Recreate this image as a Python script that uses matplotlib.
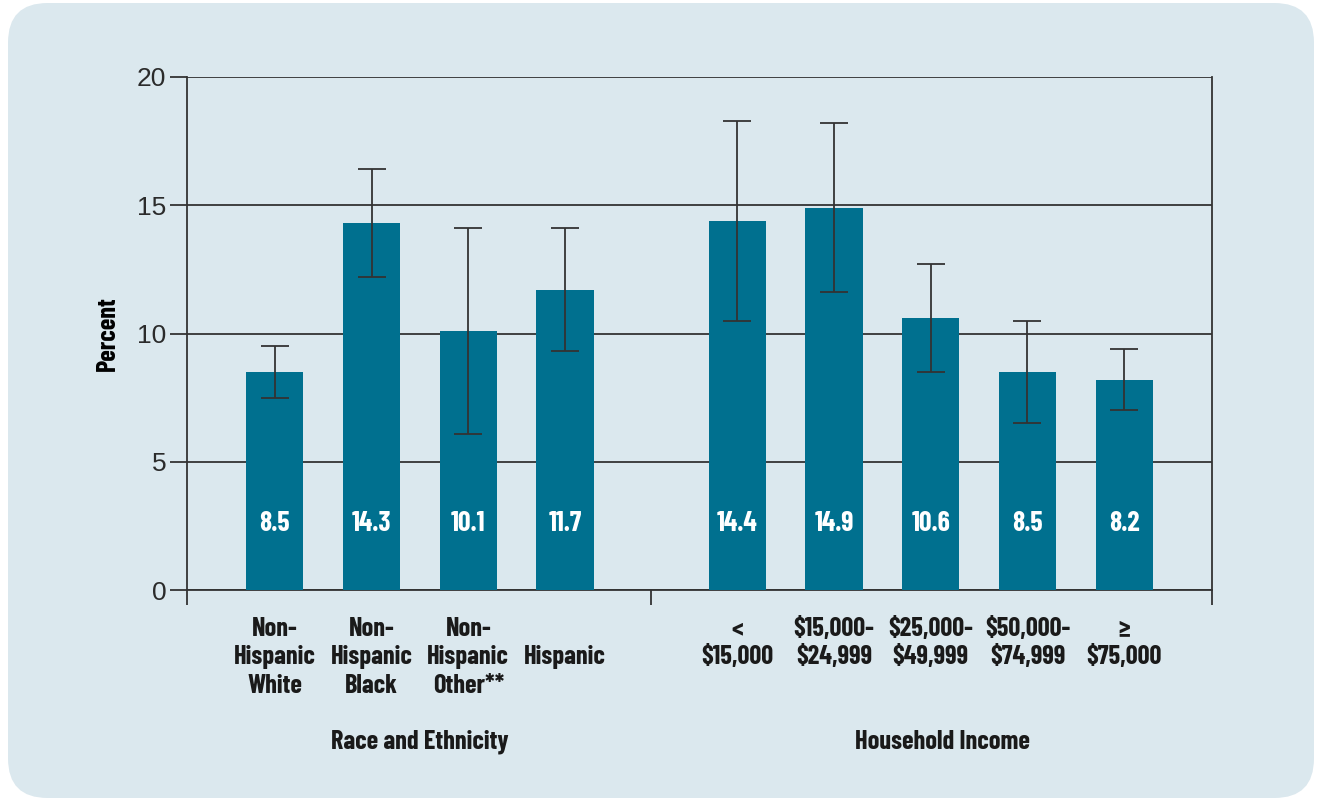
import matplotlib.pyplot as plt
from matplotlib import font_manager
from matplotlib.patches import FancyBboxPatch
from matplotlib.transforms import blended_transform_factory

# Data
race_labels = ["Non-\nHispanic\nWhite", "Non-\nHispanic\nBlack", "Non-\nHispanic\nOther**", "\nHispanic"]
race_values = [8.5, 14.3, 10.1, 11.7]
race_low = [7.5, 12.2, 6.1, 9.3]
race_high = [9.5, 16.4, 14.1, 14.1]

income_labels = ["<\n$15,000", "$15,000-\n$24,999", "$25,000-\n$49,999", "$50,000-\n$74,999", "\u2265\n$75,000"]
income_values = [14.4, 14.9, 10.6, 8.5, 8.2]
income_low = [10.5, 11.6, 8.5, 6.5, 7.0]
income_high = [18.3, 18.2, 12.7, 10.5, 9.4]

group_titles = ["Race and Ethnicity", "Household Income"]
y_ticks = [0, 5, 10, 15, 20]

BG = "#dbe8ee"
BAR = "#00708f"
LINE = "#333333"

names = {f.name for f in font_manager.fontManager.ttflist}
if "Barlow Condensed" in names:
    cond = dict(family=["Barlow Condensed", "DejaVu Sans"], fontweight=700)
else:
    cond = dict(family=["DejaVu Sans"], fontstretch="condensed", fontweight="bold")

fig = plt.figure(figsize=(13.19, 8.01), dpi=100)
fig.patch.set_facecolor("white")
panel = FancyBboxPatch((8 / 1319, 3 / 801), 1306 / 1319, 795 / 801,
                       boxstyle="round,pad=0,rounding_size=0.03",
                       transform=fig.transFigure, facecolor=BG, edgecolor="none",
                       mutation_aspect=1319 / 801, zorder=-10)
fig.patches.append(panel)

ax = fig.add_axes([187 / 1319, 1 - 590 / 801, (1212 - 187) / 1319, (590 - 77) / 801])
ax.set_facecolor("none")

gap = 4.78
race_x = list(range(len(race_values)))
income_x = [gap + i for i in range(len(income_values))]
xs = race_x + income_x
vals = race_values + income_values
lows = race_low + income_low
highs = race_high + income_high
labels = race_labels + income_labels

ax.bar(xs, vals, width=0.59, color=BAR, zorder=3)
err = [[v - l for v, l in zip(vals, lows)], [h - v for v, h in zip(vals, highs)]]
ax.errorbar(xs, vals, yerr=err, fmt="none", ecolor=LINE, elinewidth=1.3,
            capsize=10, capthick=1.3, zorder=4)

for x, v in zip(xs, vals):
    ax.text(x, 2.6, f"{v}", color="white", ha="center", va="center",
            fontsize=20, zorder=5, **cond)

left = -0.907
right = xs[-1] + 0.907
sep = (race_x[-1] + income_x[0]) / 2
ax.set_xlim(left, right)
ax.set_ylim(0, 20)

ax.set_yticks(y_ticks)
ax.set_yticklabels([str(t) for t in y_ticks], fontsize=19, color="#2b2b2b",
                   family=["Liberation Sans", "DejaVu Sans"])
ax.tick_params(axis="y", length=12, width=1.3, color=LINE, pad=3)
ax.set_xticks([left, sep, right])
ax.set_xticklabels([])
ax.tick_params(axis="x", length=11, width=1.3, color=LINE)
ax.grid(axis="y", color=LINE, linewidth=1.3, zorder=1)

ax.spines["top"].set_visible(False)
for s in ["left", "right", "bottom"]:
    ax.spines[s].set_color(LINE)
    ax.spines[s].set_linewidth(1.3)
    ax.spines[s].set_zorder(2)

ax.set_ylabel("Percent", fontsize=19, labelpad=12, **cond)

trans = blended_transform_factory(ax.transData, fig.transFigure)
for x, lab in zip(xs, labels):
    ax.text(x, 1 - 617 / 801, lab, transform=trans, ha="center", va="top",
            fontsize=19, linespacing=1.23, color="#1a1a1a", **cond)

ax.text(sum(race_x) / len(race_x), 1 - 742 / 801, group_titles[0], transform=trans,
        ha="center", va="center", fontsize=19, color="#1a1a1a", **cond)
ax.text(sum(income_x) / len(income_x) + 0.12, 1 - 742 / 801, group_titles[1], transform=trans,
        ha="center", va="center", fontsize=19, color="#1a1a1a", **cond)

fig.savefig("out.png", dpi=100, facecolor=fig.get_facecolor())
